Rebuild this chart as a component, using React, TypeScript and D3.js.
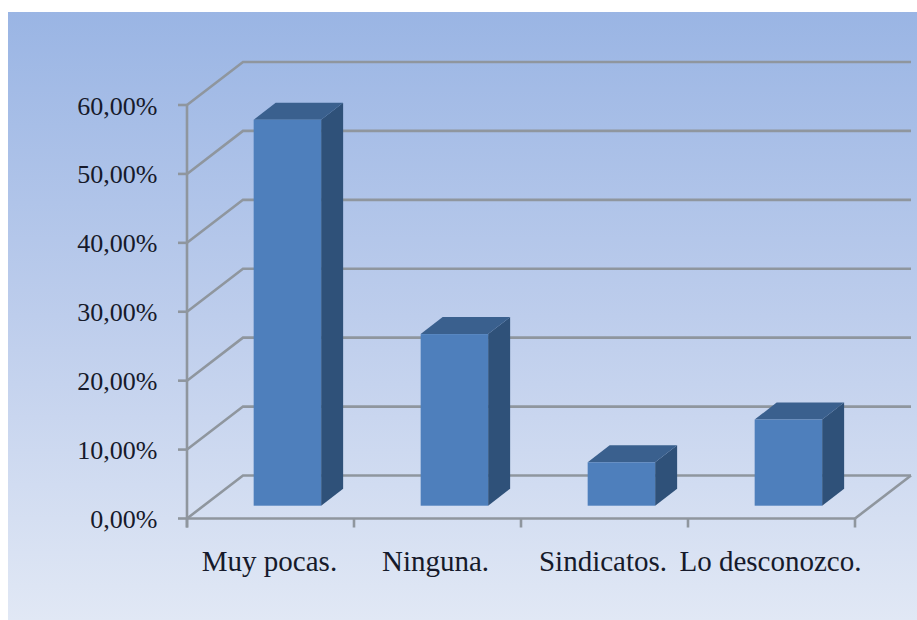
import React from "react";
import * as d3 from "d3";

const categories = ["Muy pocas.", "Ninguna.", "Sindicatos.", "Lo desconozco."];
const shares = [56, 24.9, 6.3, 12.5];
const tickValues = [0, 10, 20, 30, 40, 50, 60];
const categoryLabelCentres = [269.5, 435.5, 603, 770.5];

const width = 917;
const height = 620;
const plot = { left: 187, right: 855, floor: 518.5, top: 105 };
const wallShift = { x: 56, y: -43 };
const barFront = { x: 16.9, y: -12.8 };
const barDepth = { x: 22, y: -17 };

const gridColor = "#8f969e";
const textColor = "#161a2b";
const labelFont = "'Liberation Serif', serif";

const y = d3.scaleLinear().domain([0, 60]).range([plot.floor, plot.top]);
const x = d3.scaleBand<string>().domain(categories).range([plot.left, plot.right]).paddingInner(0.596).paddingOuter(0.298);
const edges = categories.map((_, i) => plot.left + (i * (plot.right - plot.left)) / categories.length).concat(plot.right);
const pct = (v: number) => `${v.toFixed(2).replace(".", ",")}%`;
const poly = d3.line();

export default function App() {
  return (
    <svg
      width={width}
      height={height}
      viewBox={`0 0 ${width} ${height}`}
      style={{ position: "absolute", left: 0, top: 0, display: "block", background: "#fff" }}
    >
      <defs>
        <linearGradient id="panel" x1="0" y1="0" x2="0" y2="1">
          <stop offset="0" stopColor="#9ab5e4" />
          <stop offset="0.5" stopColor="#bdcdec" />
          <stop offset="1" stopColor="#e1e8f5" />
        </linearGradient>
      </defs>
      <rect x={8} y={12} width={width - 8} height={height - 12} fill="url(#panel)" />

      {/* Back wall and left side gridlines */}
      <g fill="none" stroke={gridColor} strokeWidth={2.6}>
        {tickValues.map((t) => (
          <path
            key={t}
            d={
              poly([
                [plot.left, y(t)],
                [plot.left + wallShift.x, y(t) + wallShift.y],
                [plot.right + wallShift.x, y(t) + wallShift.y],
              ]) ?? ""
            }
          />
        ))}
        <path
          d={
            poly([
              [plot.right, plot.floor],
              [plot.right + wallShift.x, plot.floor + wallShift.y],
            ]) ?? ""
          }
        />
      </g>

      {/* Axes and tick marks */}
      <g stroke={gridColor} strokeWidth={2.6} fill="none">
        <line x1={plot.left} x2={plot.left} y1={plot.top} y2={plot.floor + 9} />
        <line x1={plot.left} x2={plot.right} y1={plot.floor} y2={plot.floor} />
        {tickValues.map((t) => (
          <line key={t} x1={plot.left - 9} x2={plot.left} y1={y(t)} y2={y(t)} />
        ))}
        {edges.map((e) => (
          <line key={e} x1={e} x2={e} y1={plot.floor} y2={plot.floor + 9} />
        ))}
      </g>

      {/* Bars: front, side and top faces */}
      {categories.map((c, i) => {
        const x0 = (x(c) ?? 0) + barFront.x;
        const x1 = x0 + x.bandwidth();
        const bottom = y(0) + barFront.y;
        const top = y(shares[i]) + barFront.y;
        return (
          <g key={c}>
            <path
              fill="#2f5179"
              d={
                (poly([
                  [x1, top],
                  [x1 + barDepth.x, top + barDepth.y],
                  [x1 + barDepth.x, bottom + barDepth.y],
                  [x1, bottom],
                ]) ?? "") + "Z"
              }
            />
            <path
              fill="#3a608e"
              d={
                (poly([
                  [x0, top],
                  [x0 + barDepth.x, top + barDepth.y],
                  [x1 + barDepth.x, top + barDepth.y],
                  [x1, top],
                ]) ?? "") + "Z"
              }
            />
            <rect x={x0} y={top} width={x1 - x0} height={bottom - top} fill="#4e7fbc" />
          </g>
        );
      })}

      {/* Value axis labels */}
      <g fontFamily={labelFont} fontSize={26} fill={textColor} textAnchor="end">
        {tickValues.map((t) => (
          <text key={t} x={157.5} y={y(t) + 9.5}>
            {pct(t)}
          </text>
        ))}
      </g>

      {/* Category labels */}
      <g fontFamily={labelFont} fontSize={29} fill={textColor} textAnchor="middle">
        {categories.map((c, i) => (
          <text key={c} x={categoryLabelCentres[i]} y={570.5}>
            {c}
          </text>
        ))}
      </g>
    </svg>
  );
}
